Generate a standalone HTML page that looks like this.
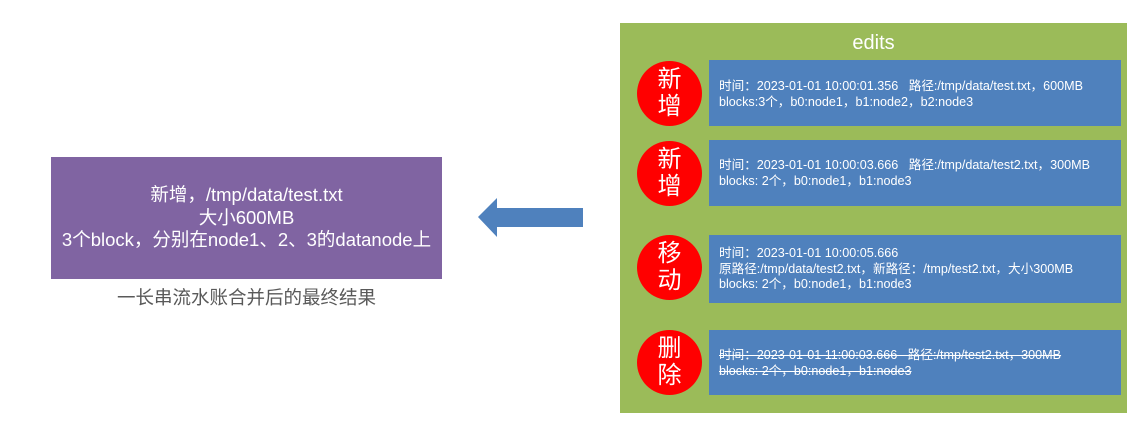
<!DOCTYPE html>
<html><head><meta charset="utf-8"><style>
*{margin:0;padding:0;box-sizing:border-box}
body{width:1145px;height:433px;background:#fff;position:relative;overflow:hidden;font-family:"Liberation Sans","Noto Sans CJK SC",sans-serif}
.abs{position:absolute}
#purple{left:51px;top:157px;width:391px;height:122px;background:#8064a2;color:#fff;font-size:18.5px;line-height:22.5px;text-align:center;padding-top:27px;white-space:nowrap}
#cap{left:51px;top:284px;width:391px;text-align:center;color:#595959;font-size:18.5px}
#green{left:620px;top:23px;width:507px;height:390px;background:#9bbb59}
.title{left:0;top:9px;width:507px;text-align:center;color:#fff;font-size:20px}
.blue{left:89px;width:412px;background:#4f81bd;color:#fff;font-size:12.6px;line-height:15.5px;padding-left:10px;white-space:nowrap}
.circ{left:17px;width:65px;height:65px;border-radius:50%;background:#f00;color:#fff;font-size:24px;line-height:27px;text-align:center;padding-top:5px}
.s{text-decoration:line-through}
</style></head><body>
<div id="purple" class="abs">新增，/tmp/data/test.txt<br>大小600MB<br>3个block，分别在node1、2、3的datanode上</div>
<div id="cap" class="abs">一长串流水账合并后的最终结果</div>
<svg class="abs" style="left:0;top:0" width="1145" height="433"><polygon points="478,217 497,198 497,208 583,208 583,227 497,227 497,237" fill="#4f81bd"/></svg>
<div id="green" class="abs">
<div class="abs title">edits</div>
<div class="abs circ" style="top:38px">新<br>增</div>
<div class="abs blue" style="top:37px;height:66px;padding-top:19px">时间：2023-01-01 10:00:01.356&nbsp;&nbsp; 路径:/tmp/data/test.txt，600MB<br>blocks:3个，b0:node1，b1:node2，b2:node3</div>
<div class="abs circ" style="top:118px">新<br>增</div>
<div class="abs blue" style="top:117px;height:66px;padding-top:18px">时间：2023-01-01 10:00:03.666&nbsp;&nbsp; 路径:/tmp/data/test2.txt，300MB<br>blocks: 2个，b0:node1，b1:node3</div>
<div class="abs circ" style="top:212px">移<br>动</div>
<div class="abs blue" style="top:212px;height:68px;padding-top:11px">时间：2023-01-01 10:00:05.666<br>原路径:/tmp/data/test2.txt，新路径：/tmp/test2.txt，大小300MB<br>blocks: 2个，b0:node1，b1:node3</div>
<div class="abs circ" style="top:307px">删<br>除</div>
<div class="abs blue s" style="top:307px;height:65px;padding-top:18px">时间：2023-01-01 11:00:03.666&nbsp;&nbsp; 路径:/tmp/test2.txt，300MB<br>blocks: 2个，b0:node1，b1:node3</div>
</div>
</body></html>
